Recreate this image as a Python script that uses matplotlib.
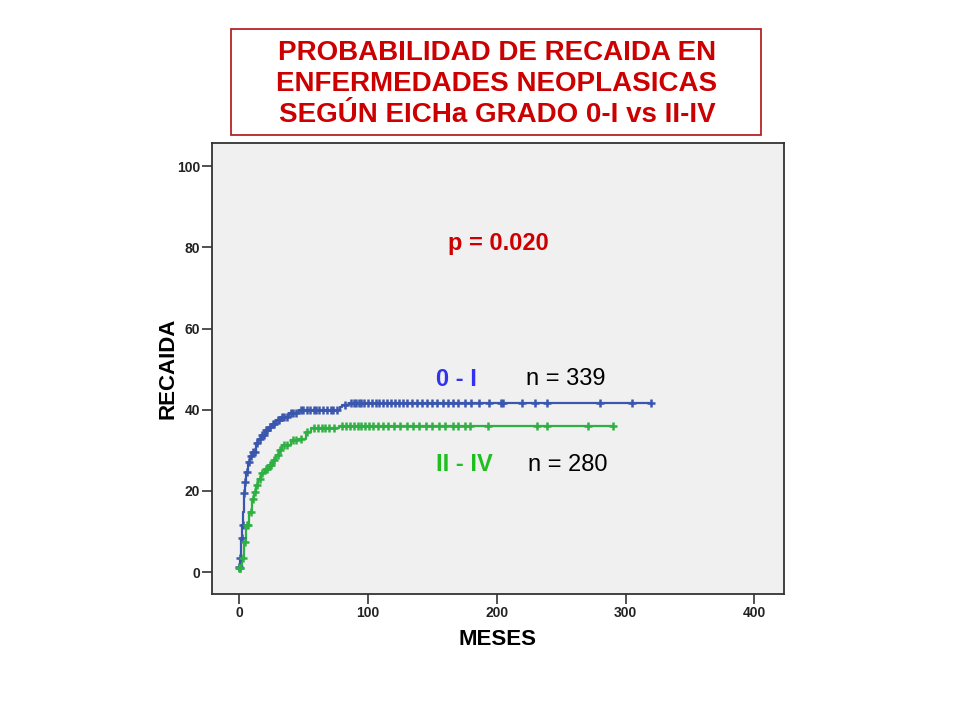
import matplotlib.pyplot as plt
from matplotlib.patches import Rectangle

# curva 0-I (tiempo en meses, % recaida acumulada)
t_a = [0, 0.7, 1.3, 2.2, 3.1, 3.9, 4.7, 5.7, 7.2, 8.8, 10.3, 13, 15, 16.8, 20.7, 23, 25.9, 29, 32.4, 38.8, 46.6, 78, 80, 85, 320]
v_a = [1.3, 3.4, 8.3, 11.5, 14.9, 19.4, 22.2, 24.7, 27.2, 28.5, 29.6, 31.7, 32.7, 33.7, 35, 35.8, 36.6, 37.5, 38.3, 39.1, 39.9, 40.6, 41.1, 41.6, 41.6]
# curva II-IV
t_b = [0, 2.1, 3.9, 5.7, 7.8, 9.8, 11.5, 13, 15, 16.8, 20, 23.3, 26, 28.5, 31, 33.6, 40, 46.6, 51.8, 55.6, 77.6, 290]
v_b = [0.9, 3.4, 7.5, 11.6, 14.9, 18.1, 19.8, 21.4, 23, 24.3, 25.4, 26.4, 27.6, 28.8, 30, 31.3, 32.5, 32.9, 34.6, 35.4, 36, 36]

# censurados
cens_a = [0, 1, 2, 3, 4, 5, 6, 8, 9, 11, 12, 14, 16, 18, 19, 21, 22, 24, 26, 27, 30, 31, 33, 35, 37, 40, 42, 44, 48, 50,
          53, 55, 58, 60, 62, 65, 68, 71, 73, 76, 82, 87, 89, 91, 93, 95, 97, 100, 103, 106, 109, 112, 115, 118, 121, 124,
          127, 130, 134, 138, 142, 146, 150, 154, 158, 162, 166, 170, 175, 180, 186, 194, 203, 205, 220, 230, 239, 280,
          305, 320]
cens_b = [0, 0.5, 1, 3, 4.5, 6, 7, 9, 10.5, 12, 14, 16, 18, 21, 22, 24, 25, 27, 30, 32, 35, 37, 42, 44, 48, 53, 58, 61,
          64, 67, 70, 74, 80, 83, 86, 89, 92, 95, 98, 101, 104, 108, 112, 116, 120, 125, 130, 135, 140, 145, 150, 155,
          160, 166, 170, 175, 179, 193, 231, 239, 271, 290]


def step_val(t, v, x):
    y = v[0]
    for ti, vi in zip(t, v):
        if ti <= x:
            y = vi
    return y


fig = plt.figure(figsize=(9.6, 7.2), dpi=100)
fig.patch.set_facecolor('white')
ax = fig.add_axes([212 / 960, 1 - 594 / 720, 572 / 960, 451 / 720])
ax.set_facecolor('#f0f0f0')

blue = '#3a56ad'
green = '#2fb042'
ax.step(t_a, v_a, where='post', color=blue, lw=1.6)
ax.step(t_b, v_b, where='post', color=green, lw=1.6)
ax.plot(cens_a, [step_val(t_a, v_a, c) for c in cens_a], '+', color=blue, ms=6, mew=1.8)
ax.plot(cens_b, [step_val(t_b, v_b, c) for c in cens_b], '+', color=green, ms=6, mew=1.8)

ax.set_xlim(-21, 423)
ax.set_ylim(-5.4, 105.7)
ax.set_xticks([0, 100, 200, 300, 400])
ax.set_yticks([0, 20, 40, 60, 80, 100])
for s in ax.spines.values():
    s.set_color('#333333')
    s.set_linewidth(1.3)
ax.tick_params(length=7, width=1.2, color='#333333', direction='out', pad=1.5)
for lab in ax.get_xticklabels() + ax.get_yticklabels():
    lab.set_fontfamily('Liberation Sans')
    lab.set_fontweight('bold')
    lab.set_fontsize(10)
    lab.set_color('#222222')

ax.set_xlabel('MESES', fontsize=16, fontweight='bold', family='Liberation Sans', labelpad=6.5)
ax.set_ylabel('RECAIDA', fontsize=16, fontweight='bold', family='Liberation Sans', labelpad=-1)

ax.text(162, 81, 'p = 0.020', color='#cc0000', fontsize=17, fontweight='bold', family='Liberation Sans', va='center')
ax.text(153, 47.5, '0 - I', color='#3333ee', fontsize=17, fontweight='bold', family='Liberation Sans', va='center')
ax.text(223, 47.5, 'n = 339', color='black', fontsize=17, family='Liberation Sans', va='center')
ax.text(153, 26.5, 'II - IV', color='#1fbf1f', fontsize=17, fontweight='bold', family='Liberation Sans', va='center')
ax.text(224, 26.5, 'n = 280', color='black', fontsize=17, family='Liberation Sans', va='center')

fig.patches.append(Rectangle((231 / 960, 1 - 135 / 720), 530 / 960, 106 / 720, transform=fig.transFigure,
                             fill=False, edgecolor='#b01010', lw=1.2))
fig.text(497 / 960, 1 - 84 / 720, 'PROBABILIDAD DE RECAIDA EN\nENFERMEDADES NEOPLASICAS\nSEGÚN EICHa GRADO 0-I vs II-IV',
         ha='center', va='center', color='#cc0000', fontsize=20, fontweight='bold', family='Liberation Sans',
         linespacing=1.26)

fig.savefig('out.png', dpi=100)
